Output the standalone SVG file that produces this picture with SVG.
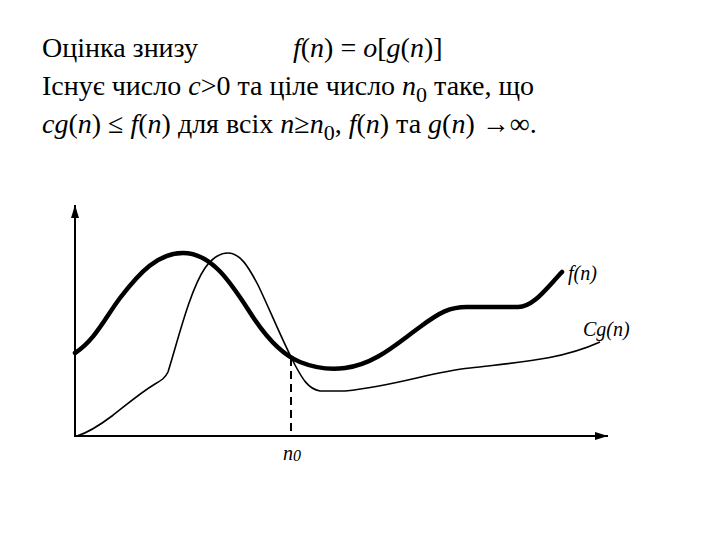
<svg xmlns="http://www.w3.org/2000/svg" width="720" height="540" viewBox="0 0 720 540">
<style>
.ax{stroke:#000;stroke-width:2;fill:none}
.fc{stroke:#000;stroke-width:4.5;fill:none;stroke-linecap:round;stroke-linejoin:round}
.gc{stroke:#000;stroke-width:1.6;fill:none;stroke-linejoin:round}
</style>
<defs>
<marker id="arr" markerWidth="14" markerHeight="10" refX="13" refY="5" orient="auto" markerUnits="userSpaceOnUse">
<path d="M0,1 L13,5 L0,9 Z" fill="#000"/>
</marker>
</defs>
<rect width="720" height="540" fill="#fff"/>
<g id="text" font-family="'Liberation Serif', 'Times New Roman', serif" font-size="28" fill="#000">
<text x="42" y="57">Оцінка знизу</text>
<text x="293" y="57"><tspan font-style="italic">f</tspan>(<tspan font-style="italic">n</tspan>) = <tspan font-style="italic">o</tspan>[<tspan font-style="italic">g</tspan>(<tspan font-style="italic">n</tspan>)]</text>
<text x="42" y="95">Існує число <tspan font-style="italic">c</tspan>&gt;0 та ціле число <tspan font-style="italic">n</tspan><tspan dy="7" font-size="22">0</tspan><tspan dy="-7">  таке, що</tspan></text>
<text x="42" y="133"><tspan font-style="italic">cg</tspan>(<tspan font-style="italic">n</tspan>) ≤ <tspan font-style="italic">f</tspan>(<tspan font-style="italic">n</tspan>) для всіх <tspan font-style="italic">n</tspan>≥<tspan font-style="italic">n</tspan><tspan dy="7" font-size="22">0</tspan><tspan dy="-7">, </tspan><tspan font-style="italic">f</tspan>(<tspan font-style="italic">n</tspan>) та <tspan font-style="italic">g</tspan>(<tspan font-style="italic">n</tspan>) →∞.</text>
</g>
<g id="axes">
<line class="ax" x1="75" y1="436" x2="75" y2="205" marker-end="url(#arr)"/>
<line class="ax" x1="74" y1="436" x2="608" y2="436" marker-end="url(#arr)"/>
</g>
<g id="curves">
<path id="fn" class="fc" d="M75,353 C95,340 105,318 120,298 C140,272 158,253 183,253 C215,253 235,290 255,320 C270,342 285,356 300,362 C315,368 330,370 345,368 C375,364 395,345 420,327 C440,312 450,307 467,307 L518,307 C533,307 545,290 562,272"/>
<path id="gn" class="gc" d="M77,436 C90,432 100,425 112,416 C125,406 140,393 155,384 C162,380 165,378 168,372 C178,340 190,290 205,268 C212,258 220,253 228,253 C240,253 248,266 258,285 C270,310 282,340 295,365 C302,378 308,389 320,391 L345,391 C400,385 430,372 470,368 C520,362 560,360 600,342"/>
<line id="n0line" x1="291" y1="358" x2="291" y2="436" stroke="#000" stroke-width="2" stroke-dasharray="8,5"/>
</g>
<g id="labels" font-family="'Liberation Serif', 'Times New Roman', serif" font-style="italic" font-size="20" fill="#000">
<text x="568" y="280">f(n)</text>
<text x="583" y="336">Cg(n)</text>
<text x="283" y="460">n<tspan font-size="16" dy="1">0</tspan></text>
</g>
</svg>
